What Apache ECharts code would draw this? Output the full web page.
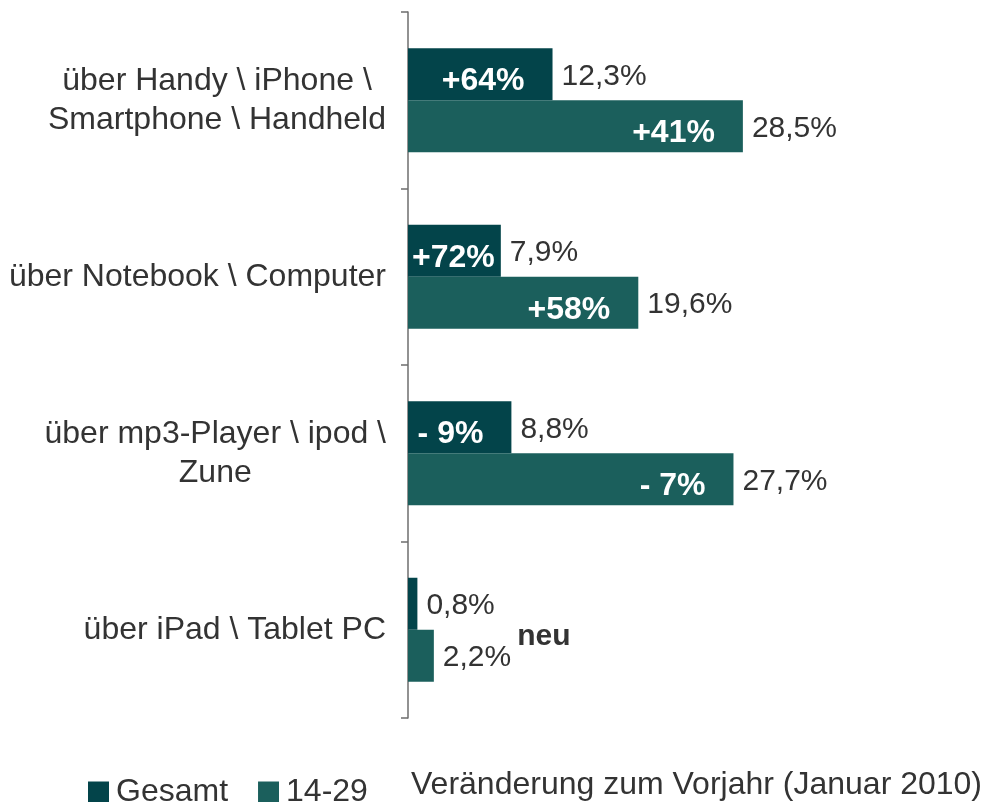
<!DOCTYPE html>
<html>
<head>
<meta charset="utf-8">
<script src="https://cdn.jsdelivr.net/npm/echarts@6/dist/echarts.min.js"></script>
<style>
  html, body { margin: 0; padding: 0; background: #fff; }
  #container { width: 983px; height: 802px; }
</style>
</head>
<body>
<div id="container"></div>
<script>
const categories = [
  "über Handy \\ iPhone \\\nSmartphone \\ Handheld",
  "über Notebook \\ Computer",
  "über mp3-Player \\ ipod \\\nZune",
  "über iPad \\ Tablet PC",
];
const gesamt = [12.3, 7.9, 8.8, 0.8];
const jung = [28.5, 19.6, 27.7, 2.2];
const gesamtChange = ["+64%", "+72%", "- 9%", ""];
const jungChange = ["+41%", "+58%", "- 7%", ""];
const jungNote = ["", "", "", "neu"];
const labelAnchor = [0, 0, 0, 0];

const FONT = "Liberation Sans, Arial, sans-serif";
const DARK = "#03444a";
const TEAL = "#1b5f5c";

const fmt = (v) => v.toFixed(1).replace(".", ",") + "%";

const changeLabel = (texts) => ({
  show: true,
  position: "insideRight",
  color: "#fff",
  fontFamily: FONT,
  fontWeight: "bold",
  fontSize: 32,
  formatter: (p) => texts[p.dataIndex],
});

// change label sits a bit low, right-aligned inside the bar;
// on a short bar it starts just after the axis instead
const placeChange = (params) => {
  const r = params.rect;
  const w = params.labelRect.width;
  const y = r.y + r.height / 2 + 7;
  let right = r.x + r.width - 28;
  if (right - w < r.x + 4) right = r.x + 4 + w;
  return { x: right, y: y, align: "right", verticalAlign: "middle" };
};

const valueLabel = (values, notes) => ({
  show: true,
  position: "right",
  distance: 9,
  offset: [0, 2],
  formatter: (p) => {
    let s = "{v|" + fmt(values[p.dataIndex]) + "}";
    if (notes && notes[p.dataIndex]) s += "{n|" + notes[p.dataIndex] + "}";
    return s;
  },
  rich: {
    v: { fontFamily: FONT, fontSize: 30, color: "#333" },
    n: {
      fontFamily: FONT,
      fontSize: 30,
      fontWeight: "bold",
      color: "#333",
      padding: [0, 0, 42, 6],
    },
  },
});

const dom = document.getElementById("container");
const myChart = echarts.init(dom);

const option = {
  backgroundColor: "#FFFFFF",
  animation: false,
  title: {
    text: "Veränderung zum Vorjahr (Januar 2010)",
    left: 411,
    top: 769,
    padding: 0,
    textStyle: {
      fontFamily: FONT,
      fontSize: 32,
      fontWeight: "normal",
      color: "#333",
    },
  },
  legend: {
    data: ["Gesamt", "14-29"],
    left: 88,
    top: 776,
    padding: 0,
    itemWidth: 21,
    itemHeight: 21,
    itemGap: 30,
    icon: "rect",
    textStyle: { fontFamily: FONT, fontSize: 32, color: "#333", padding: [0, 0, 0, 2] },
  },
  grid: { left: 408, right: 105, top: 12, bottom: 84 },
  xAxis: {
    type: "value",
    min: 0,
    max: 40,
    show: false,
  },
  yAxis: {
    type: "category",
    inverse: true,
    data: categories,
    axisLine: { lineStyle: { color: "#6e6e6e", width: 1.5 } },
    axisTick: { show: true, length: 7, lineStyle: { color: "#6e6e6e", width: 1.5 } },
    axisLabel: {
      margin: 22,
      formatter: (v) => v.split("\n").map((s) => "{c|" + s + "}").join("\n"),
      rich: {
        c: {
          fontFamily: FONT,
          fontSize: 32,
          lineHeight: 39,
          align: "center",
          color: "#333",
        },
      },
    },
  },
  series: [
    {
      name: "Gesamt",
      type: "bar",
      stack: "g",
      barWidth: 52,
      barGap: "0%",
      itemStyle: { color: DARK },
      label: changeLabel(gesamtChange),
      labelLayout: placeChange,
      data: gesamt,
    },
    {
      name: "Gesamt-Wert",
      type: "bar",
      stack: "g",
      barWidth: 52,
      barGap: "0%",
      itemStyle: { color: DARK },
      label: valueLabel(gesamt),
      data: labelAnchor,
    },
    {
      name: "14-29",
      type: "bar",
      stack: "t",
      barWidth: 52,
      barGap: "0%",
      itemStyle: { color: TEAL },
      label: changeLabel(jungChange),
      labelLayout: placeChange,
      data: jung,
    },
    {
      name: "14-29-Wert",
      type: "bar",
      stack: "t",
      barWidth: 52,
      barGap: "0%",
      itemStyle: { color: TEAL },
      label: valueLabel(jung, jungNote),
      data: labelAnchor,
    },
  ],
};

myChart.setOption(option);
</script>
</body>
</html>
